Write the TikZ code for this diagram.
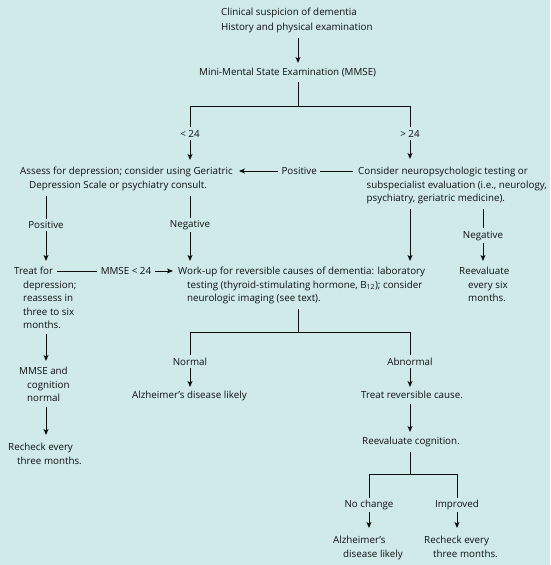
\documentclass[tikz,border=0pt]{standalone}
\usepackage{fontspec}
\setmainfont{Open Sans}
\usetikzlibrary{arrows.meta,calc}
\definecolor{bg}{RGB}{208,234,234}
\definecolor{ink}{RGB}{15,15,15}
\begin{document}
\begin{tikzpicture}[x=1pt,y=-1pt,
  txt/.style={anchor=north west, inner sep=0pt, align=left, font=\fontsize{9.8}{13.5}\selectfont, text=ink},
  lbl/.style={fill=bg, inner xsep=3.5pt, inner ysep=2.5pt, font=\fontsize{9.8}{12}\selectfont, text=ink},
  ln/.style={line width=1pt, draw=ink, shorten <=5pt},
  hl/.style={line width=1pt, draw=ink},
  arr/.style={-{Stealth[length=6pt,width=5pt,inset=1.5pt]}, line width=1pt, draw=ink, shorten <=5pt, shorten >=6pt}]
\fill[bg] (0,0) rectangle (550,565);
\useasboundingbox (0,0) rectangle (550,565);

% columns and junction rows
\coordinate (colM) at (298,0);
\coordinate (colL) at (190,0);
\coordinate (colR) at (410,0);
\coordinate (colP) at (46,0);
\coordinate (colN) at (483,0);
\coordinate (colA) at (369,0);
\coordinate (colB) at (457,0);
\coordinate (j1) at (0,106);
\coordinate (j2) at (0,332);
\coordinate (j3) at (0,474);
\coordinate (rowA) at (0,171);
\coordinate (treatend) at (57,271);

% text nodes
\node[txt] (top) at (221,8) {Clinical suspicion of dementia\\[1.5pt]History and physical examination};
\node[txt] (mmse) at (199,68) {Mini-Mental State Examination (MMSE)};
\node[txt] (assess) at (20,167) {Assess for depression; consider using Geriatric\\\hspace*{9pt}Depression Scale or psychiatry consult.};
\node[txt] (consider) at (358,167) {Consider neuropsychologic testing or\\\hspace*{8.5pt}subspecialist evaluation (i.e., neurology,\\\hspace*{8.5pt}psychiatry, geriatric medicine).};
\node[txt] (treat) at (14,267) {Treat for\\\hspace*{9pt}depression;\\\hspace*{9pt}reassess in\\\hspace*{9pt}three to six\\\hspace*{9pt}months.};
\node[txt] (workup) at (178,267) {Work-up for reversible causes of dementia: laboratory\\\hspace*{9pt}testing (thyroid-stimulating hormone, B\textsubscript{12}); consider\\\hspace*{9pt}neurologic imaging (see text).};
\node[txt] (reeval6) at (459,267) {Reevaluate\\\hspace*{9pt}every six\\\hspace*{9pt}months.};
\node[txt] (mmsenorm) at (19,367) {MMSE and\\\hspace*{8pt}cognition\\\hspace*{8pt}normal};
\node[txt] (recheck1) at (8,443) {Recheck every\\\hspace*{9pt}three months.};
\node[txt] (alz1) at (132,391) {Alzheimer's disease likely};
\node[txt] (treatrev) at (361,391) {Treat reversible cause.};
\node[txt] (reevalcog) at (362,437) {Reevaluate cognition.};
\node[txt] (alz2) at (333,536) {Alzheimer's\\\hspace*{10pt}disease likely};
\node[txt] (recheck2) at (424,536) {Recheck every\\\hspace*{9pt}three months.};

% connectors
\draw[arr, shorten >=5pt] (top.south -| colM) -- (mmse.north -| colM);
\draw[ln] (mmse.south -| colM) -- (j1 -| colM);
\draw[hl] (j1 -| colL) -- (j1 -| colR);
\draw[arr, shorten <=0pt, shorten >=7pt] (j1 -| colL) -- node[lbl, pos=0.45] {< 24} (assess.north -| colL);
\draw[arr, shorten <=0pt, shorten >=8pt] (j1 -| colR) -- node[lbl, pos=0.45] {> 24} (consider.north -| colR);
\draw[arr] (consider.west |- rowA) -- node[lbl, pos=0.47] {Positive} (assess.east |- rowA);
\draw[arr] (assess.south -| colP) -- node[lbl, pos=0.45] {Positive} (treat.north -| colP);
\draw[arr] (assess.south -| colL) -- node[lbl, pos=0.45] {Negative} (workup.north -| colL);
\draw[arr] (consider.south -| colR) -- (workup.north -| colR);
\draw[arr] (consider.south -| colN) -- node[lbl] {Negative} (reeval6.north -| colN);
\draw[arr, shorten <=0pt, shorten >=5pt] (treatend) -- node[lbl, pos=0.57] {MMSE < 24} (workup.west |- treatend);
\draw[arr] (treat.south -| colP) -- (mmsenorm.north -| colP);
\draw[arr, shorten >=8pt] (mmsenorm.south -| colP) -- (recheck1.north -| colP);
\draw[ln] (workup.south -| colM) -- (j2 -| colM);
\draw[hl] (j2 -| colL) -- (j2 -| colR);
\draw[arr, shorten <=0pt, shorten >=4pt] (j2 -| colL) -- node[lbl] {Normal} (alz1.north -| colL);
\draw[arr, shorten <=0pt, shorten >=4pt] (j2 -| colR) -- node[lbl] {Abnormal} (treatrev.north -| colR);
\draw[arr, shorten >=5pt] (treatrev.south -| colR) -- (reevalcog.north -| colR);
\draw[ln] (reevalcog.south -| colR) -- (j3 -| colR);
\draw[hl] (j3 -| colA) -- (j3 -| colB);
\draw[arr, shorten <=0pt, shorten >=8pt] (j3 -| colA) -- node[lbl] {No change} (alz2.north -| colA);
\draw[arr, shorten <=0pt, shorten >=8pt] (j3 -| colB) -- node[lbl] {Improved} (recheck2.north -| colB);
\end{tikzpicture}
\end{document}
